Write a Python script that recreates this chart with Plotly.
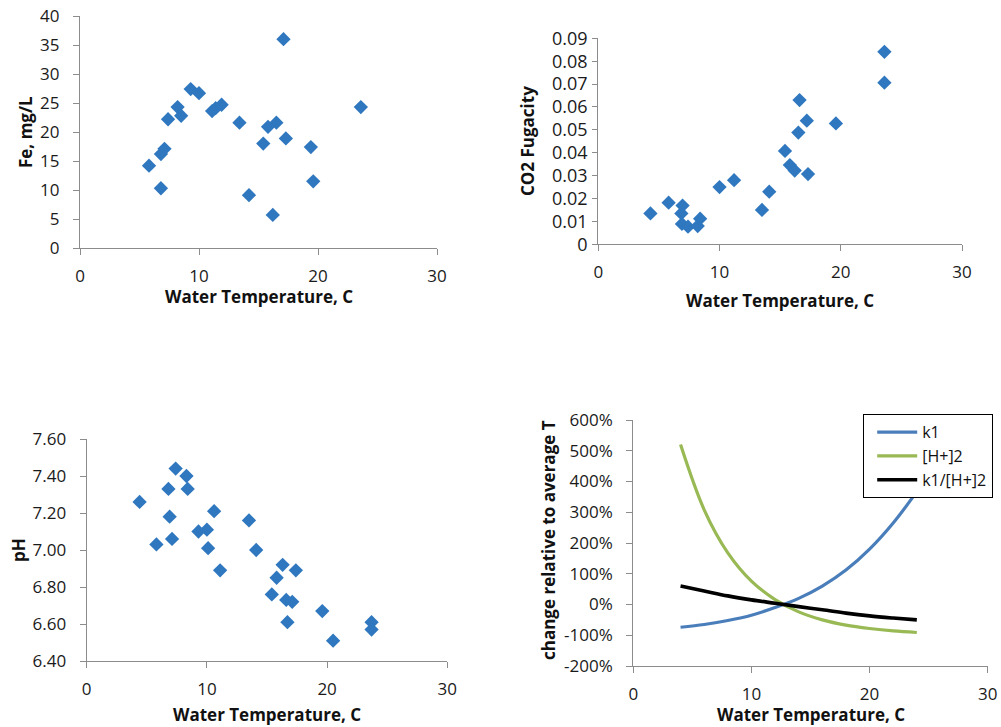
import plotly.graph_objects as go

W, H = 1001, 727

# ---- Data ----
fe_temp = [5.8, 6.8, 6.8, 7.1, 7.4, 8.2, 8.5, 9.3, 10.0, 11.1, 11.4, 11.9, 13.4, 14.2,
           15.4, 15.8, 16.5, 16.2, 17.1, 17.3, 19.4, 19.6, 23.6]
fe_val = [14.2, 10.3, 16.2, 17.1, 22.2, 24.3, 22.8, 27.4, 26.7, 23.6, 24.1, 24.7, 21.6, 9.1,
          18.0, 20.9, 21.6, 5.7, 36.0, 18.9, 17.4, 11.5, 24.3]

co2_temp = [4.3, 5.8, 6.85, 6.95, 6.9, 7.4, 8.2, 8.4, 10.0, 11.2, 13.5, 14.1, 15.4, 15.8,
            16.2, 16.5, 16.6, 17.2, 17.3, 19.6, 23.6, 23.6]
co2_val = [0.0135, 0.0182, 0.0135, 0.0169, 0.0089, 0.0077, 0.0080, 0.0112, 0.0250, 0.0280,
           0.0150, 0.0230, 0.0408, 0.0346, 0.0322, 0.0488, 0.0630, 0.0540, 0.0307, 0.0528,
           0.0841, 0.0706]

ph_temp = [4.4, 5.8, 6.8, 6.9, 7.1, 7.4, 8.3, 8.4, 9.3, 10.0, 10.1, 10.6, 11.1, 13.5, 14.1,
           15.4, 15.8, 16.3, 16.6, 16.7, 17.1, 17.4, 19.6, 20.5, 23.7, 23.7]
ph_val = [7.26, 7.03, 7.33, 7.18, 7.06, 7.44, 7.40, 7.33, 7.10, 7.11, 7.01, 7.21, 6.89, 7.16,
          7.00, 6.76, 6.85, 6.92, 6.73, 6.61, 6.72, 6.89, 6.67, 6.51, 6.61, 6.57]

curve_temp = [4, 6, 8, 10, 12, 14, 16, 18, 20, 22, 24]
k1_pct = [-74, -65, -52, -35, -10, 20, 60, 112, 180, 265, 367]
h2_pct = [520, 308, 168, 76, 16, -24, -50, -67, -78, -86, -91]
ratio_pct = [60, 44, 28, 15, 4, -7, -17, -28, -37, -44, -50]

x_ticks = [0, 10, 20, 30]
pct_ticks = [-200, -100, 0, 100, 200, 300, 400, 500, 600]
pct_labels = ["-200%", "-100%", "0%", "100%", "200%", "300%", "400%", "500%", "600%"]
ph_ticks = [6.4, 6.6, 6.8, 7.0, 7.2, 7.4, 7.6]

# ---- Styling ----
FONT = "Open Sans"
AXC = "#8c8c8c"
MARK = "#2F77BF"
TICKFONT = dict(family=FONT, size=17, color="#1a1a1a")


def fx(px):
    return px / W


def fy(py):
    return 1 - py / H


fig = go.Figure()

# panel geometry in window pixels: (left, right, top, bottom)
panels = {
    1: (80, 437, 16, 248),
    2: (598.3, 962, 38.3, 244.3),
    3: (86.7, 447.3, 439, 661),
    4: (633.3, 987.7, 420, 666),
}

for i, (l, r, t, b) in panels.items():
    sx = "" if i == 1 else str(i)
    fig.layout["xaxis" + sx] = dict(
        domain=[fx(l), fx(r)], anchor="y" + sx, range=[0, 30], tickvals=x_ticks,
        showline=True, linecolor=AXC, linewidth=1.3, ticks="outside", ticklen=6,
        tickcolor=AXC, tickwidth=1.3, showgrid=False, zeroline=False,
        tickfont=TICKFONT, ticklabelstandoff=6, ticklabeloverflow="allow",
    )
    fig.layout["yaxis" + sx] = dict(
        domain=[fy(b), fy(t)], anchor="x" + sx,
        showline=True, linecolor=AXC, linewidth=1.3, ticks="outside", ticklen=6,
        tickcolor=AXC, tickwidth=1.3, showgrid=False, zeroline=False,
        tickfont=TICKFONT, ticklabelstandoff=10, ticklabeloverflow="allow",
    )

fig.layout.yaxis.update(range=[0, 40], dtick=5)
fig.layout.yaxis2.update(range=[0, 0.09], dtick=0.01, ticklabelstandoff=1, ticklen=5,
                         tickfont=dict(family=FONT, size=18, color="#1a1a1a"))
fig.layout.yaxis3.update(range=[6.4, 7.6], tickvals=ph_ticks, tickformat=".2f")
fig.layout.yaxis4.update(range=[-200, 600], tickvals=pct_ticks, ticktext=pct_labels)

mk = dict(symbol="diamond", size=11, color=MARK, line=dict(width=0))
fig.add_trace(go.Scatter(x=fe_temp, y=fe_val, mode="markers", marker=mk,
                         xaxis="x", yaxis="y", showlegend=False))
fig.add_trace(go.Scatter(x=co2_temp, y=co2_val, mode="markers", marker=mk,
                         xaxis="x2", yaxis="y2", showlegend=False))
fig.add_trace(go.Scatter(x=ph_temp, y=ph_val, mode="markers", marker=mk,
                         xaxis="x3", yaxis="y3", showlegend=False))

fig.add_trace(go.Scatter(x=curve_temp, y=k1_pct, mode="lines", name="k1",
                         line=dict(color="#4A7EBB", width=3.2, shape="spline"),
                         xaxis="x4", yaxis="y4"))
fig.add_trace(go.Scatter(x=curve_temp, y=h2_pct, mode="lines", name="[H+]2",
                         line=dict(color="#98B954", width=3.2, shape="spline"),
                         xaxis="x4", yaxis="y4"))
fig.add_trace(go.Scatter(x=curve_temp, y=ratio_pct, mode="lines", name="k1/[H+]2",
                         line=dict(color="#000000", width=3.6, shape="spline"),
                         xaxis="x4", yaxis="y4"))

TITLEFONT = dict(family=FONT, size=17, color="#111111", weight="bold")
annots = [
    ("Water Temperature, C", 258.5, 296, 0),
    ("Water Temperature, C", 780, 300, 0),
    ("Water Temperature, C", 267, 714, 0),
    ("Water Temperature, C", 810.5, 714, 0),
    ("Fe, mg/L", 25, 132, -90),
    ("CO2 Fugacity", 528, 141, -90),
    ("pH", 18, 550, -90),
    ("change relative to average T", 548, 540, -90),
]
for txt, ax_, ay_, ang in annots:
    fig.add_annotation(text=txt, x=fx(ax_), y=fy(ay_), xref="paper", yref="paper",
                       showarrow=False, textangle=ang, font=TITLEFONT,
                       xanchor="center", yanchor="middle")

fig.update_layout(
    width=W, height=H, autosize=False,
    margin=dict(l=0, r=0, t=0, b=0, autoexpand=False),
    paper_bgcolor="white", plot_bgcolor="white",
    legend=dict(x=fx(863), y=fy(414), xanchor="left", yanchor="top",
                bordercolor="#000000", borderwidth=1.2, bgcolor="white",
                font=dict(family=FONT, size=16, color="#111111"),
                tracegroupgap=0, itemwidth=40, indentation=8),
    showlegend=True,
)

fig.write_html("out.html", config={"displayModeBar": False},
               post_script="document.body.style.margin='0px';")
